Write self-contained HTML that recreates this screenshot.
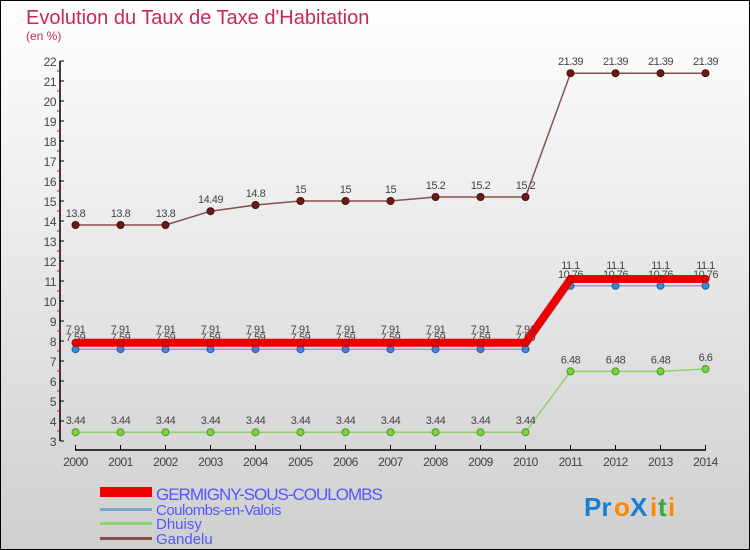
<!DOCTYPE html>
<html><head><meta charset="utf-8"><style>
body{margin:0}
#c{width:750px;height:550px;position:relative;box-sizing:border-box;border:1px solid #000;background:linear-gradient(#fff,#cfcfcf);font-family:"Liberation Sans",sans-serif;overflow:hidden}
</style></head><body>
<div id="c">
<svg id="s" width="750" height="550" style="position:absolute;left:-1px;top:-1px">
<text x="26" y="24" font-size="20" fill="#c8285a">Evolution du Taux de Taxe d'Habitation</text>
<text x="26" y="40" font-size="12" fill="#c8285a">(en %)</text>
<text x="156" y="500" font-size="17" fill="#5555ff" letter-spacing="-1">GERMIGNY-SOUS-COULOMBS</text>
<text x="156" y="515" font-size="15" fill="#5555ff" letter-spacing="-0.5">Coulombs-en-Valois</text>
<text x="156" y="529" font-size="15" fill="#5555ff">Dhuisy</text>
<text x="156" y="544" font-size="15" fill="#5555ff">Gandelu</text>
<rect x="100" y="487" width="52" height="10" fill="#e00"/>
<rect x="100" y="508" width="52" height="3" fill="#7fa8c8"/>
<rect x="100" y="522" width="52" height="3" fill="#8fd46a"/>
<rect x="100" y="537" width="52" height="3" fill="#8a5050"/>
<g font-size="26" font-weight="bold"><text x="584" y="516" fill="#1a7fd0">Pr</text><text x="614" y="516" fill="#ff8800">o</text><text x="630" y="516" fill="#1a7fd0">X</text><text x="650" y="516" fill="#ff8800">i</text><text x="658" y="516" fill="#33aa33">t</text><text x="668" y="516" fill="#ff8800">i</text></g>
</svg>
</div>
<script>
const years=[2000,2001,2002,2003,2004,2005,2006,2007,2008,2009,2010,2011,2012,2013,2014];
const germigny=[7.91,7.91,7.91,7.91,7.91,7.91,7.91,7.91,7.91,7.91,7.91,11.1,11.1,11.1,11.1];
const coulombs=[7.59,7.59,7.59,7.59,7.59,7.59,7.59,7.59,7.59,7.59,7.59,10.76,10.76,10.76,10.76];
const dhuisy=[3.44,3.44,3.44,3.44,3.44,3.44,3.44,3.44,3.44,3.44,3.44,6.48,6.48,6.48,6.6];
const gandelu=[13.8,13.8,13.8,14.49,14.8,15,15,15,15.2,15.2,15.2,21.39,21.39,21.39,21.39];
const yTicks=[3,4,5,6,7,8,9,10,11,12,13,14,15,16,17,18,19,20,21,22];
const NS='http://www.w3.org/2000/svg',svg=document.getElementById('s');
const X=i=>75.5+i*(705.5-75.5)/(years.length-1);
const Y=v=>61+(22-v)*(441-61)/19;
function mk(t,a,p){const e=document.createElementNS(NS,t);for(const k in a)e.setAttribute(k,a[k]);(p||svg).appendChild(e);return e;}
let ax=mk('line',{x1:60,y1:Y(22),x2:60,y2:Y(3),stroke:'#000','stroke-width':1.5});

let xa=mk('line',{x1:75,y1:450,x2:706,y2:450,stroke:'#000','stroke-width':1.5});

yTicks.forEach(v=>{
 mk('line',{x1:60,y1:Y(v),x2:64,y2:Y(v),stroke:'#000'});
 if(v<22)mk('line',{x1:57,y1:Y(v+0.5),x2:60,y2:Y(v+0.5),stroke:'#e00'});
 const t=mk('text',{x:56,y:Y(v)+5,'font-size':12,fill:'#444','text-anchor':'end','letter-spacing':'-0.5'});t.textContent=v;
 
});
years.forEach((y,i)=>{
 mk('line',{x1:X(i),y1:445,x2:X(i),y2:450,stroke:'#000'});
 const t=mk('text',{x:X(i),y:466,'font-size':12,fill:'#444','text-anchor':'middle','letter-spacing':'-0.5'});t.textContent=y;
 
});
function series(d,name,col,w,dot,dotStroke,lblDy){
 const g=mk('g',{});
 
 const ln=mk('polyline',{points:d.map((v,i)=>X(i)+','+Y(v)).join(' '),fill:'none',stroke:col,'stroke-width':w,'stroke-linejoin':'round'},g);
 
 d.forEach((v,i)=>{
  const c=mk('circle',{cx:X(i),cy:Y(v),r:3.5,fill:dot,stroke:dotStroke,'stroke-width':1},g);
  
  const t=mk('text',{x:X(i),y:Y(v)+lblDy,'font-size':11,fill:'#444','text-anchor':'middle','letter-spacing':'-0.5'},g);t.textContent=v;
  
 });
}
series(gandelu,'gandelu','#8a5050',1.5,'#6a1a1a','#4a0a0a',-8);
series(dhuisy,'dhuisy','#8fd46a',1.5,'#7fd040','#4a9a20',-8);
series(coulombs,'coulombs','#7fa8c8',1.5,'#3a8ad0','#20609a',-8);
series(germigny,'germigny','#e00',8,'#e00','#b00',-10);
</script>
</body></html>
